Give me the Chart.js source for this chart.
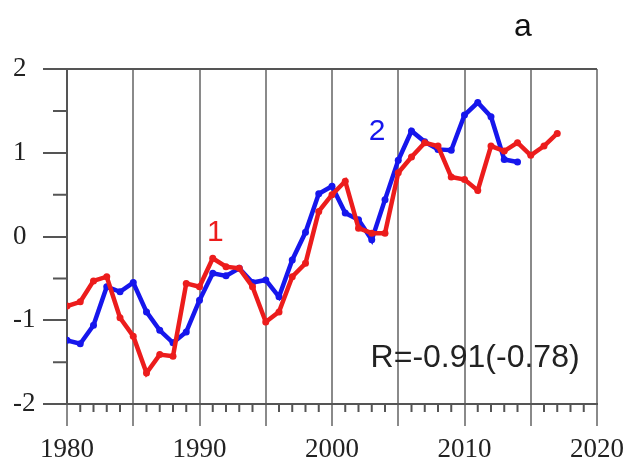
<!DOCTYPE html>
<html>
<head>
<meta charset="utf-8">
<script src="https://cdn.jsdelivr.net/npm/chart.js@4/dist/chart.umd.min.js"></script>
<style>
  html, body { margin: 0; padding: 0; background: #fff; }
  #wrap { width: 626px; height: 462px; position: relative; }
</style>
</head>
<body>
<div id="wrap"><canvas id="chart"></canvas></div>
<script>
// index values, one per year starting at startYear
var startYear = 1980;
var series1 = [-0.83, -0.78, -0.53, -0.48, -0.97, -1.19, -1.63, -1.41, -1.43, -0.56,
               -0.60, -0.26, -0.36, -0.38, -0.60, -1.02, -0.90, -0.48, -0.32, 0.30,
               0.50, 0.66, 0.10, 0.04, 0.04, 0.76, 0.95, 1.12, 1.08, 0.71,
               0.68, 0.55, 1.08, 1.02, 1.12, 0.97, 1.08, 1.23];
var series2 = [-1.24, -1.28, -1.06, -0.60, -0.66, -0.55, -0.90, -1.12, -1.27, -1.14,
               -0.76, -0.44, -0.47, -0.38, -0.55, -0.52, -0.72, -0.28, 0.05, 0.51,
               0.60, 0.28, 0.20, -0.04, 0.44, 0.91, 1.26, 1.13, 1.04, 1.03,
               1.45, 1.60, 1.43, 0.92, 0.89];
var xTickLabels = [1980, 1990, 2000, 2010, 2020];
var yTickLabels = [-2, -1, 0, 1, 2];
var panelLetter = 'a';
var corrText = 'R=-0.91(-0.78)';

var red = '#ec1c1c';
var blue = '#1616ec';
var axisGrey = '#555555';
var gridGrey = '#8a8a8a';

function toPoints(values) {
    return values.map(function(v, i) { return { x: startYear + i, y: v }; });
}

// small year ticks, half-unit ticks on y, top frame line and the text labels
var decorations = {
    id: 'decorations',
    afterDraw: function(chart) {
        var ctx = chart.ctx;
        var xs = chart.scales.x, ys = chart.scales.y;
        var area = chart.chartArea;
        ctx.save();
        ctx.strokeStyle = axisGrey;
        ctx.lineWidth = 2;
        ctx.beginPath();
        for (var yr = xs.min; yr <= xs.max; yr++) {
            if (yr % 5 === 0) continue;
            var px = xs.getPixelForValue(yr);
            ctx.moveTo(px, area.bottom);
            ctx.lineTo(px, area.bottom + 8);
        }
        for (var v = ys.min + 0.5; v < ys.max; v += 1) {
            var py = ys.getPixelForValue(v);
            ctx.moveTo(area.left, py);
            ctx.lineTo(area.left - 14, py);
        }
        ctx.moveTo(area.left, area.top);
        ctx.lineTo(area.right, area.top);
        ctx.stroke();

        ctx.textAlign = 'center';
        ctx.textBaseline = 'middle';
        ctx.font = '32px "Liberation Sans", Arial, sans-serif';
        ctx.fillStyle = '#111';
        ctx.fillText(panelLetter, xs.getPixelForValue(2014.4), ys.getPixelForValue(2.5));

        ctx.font = '30px "Liberation Sans", Arial, sans-serif';
        ctx.fillStyle = red;
        ctx.fillText('1', xs.getPixelForValue(1991.2), ys.getPixelForValue(0.04));
        ctx.fillStyle = blue;
        ctx.fillText('2', xs.getPixelForValue(2003.4), ys.getPixelForValue(1.25));

        ctx.font = '32px "Liberation Sans", Arial, sans-serif';
        ctx.fillStyle = '#222';
        ctx.fillText(corrText, xs.getPixelForValue(2010.8), ys.getPixelForValue(-1.45));
        ctx.restore();
    }
};

new Chart(document.getElementById('chart'), {
    type: 'line',
    data: {
        datasets: [{
            label: '1',
            data: toPoints(series1),
            borderColor: red,
            backgroundColor: red,
            borderWidth: 4.5,
            pointRadius: 3.5,
            pointBorderWidth: 0,
            tension: 0
        }, {
            label: '2',
            data: toPoints(series2),
            borderColor: blue,
            backgroundColor: blue,
            borderWidth: 4.5,
            pointRadius: 3.5,
            pointBorderWidth: 0,
            tension: 0
        }]
    },
    options: {
        responsive: true,
        maintainAspectRatio: false,
        animation: false,
        layout: { padding: { left: 13, right: 29, top: 69, bottom: 0 } },
        plugins: {
            legend: { display: false },
            tooltip: { enabled: false }
        },
        scales: {
            x: {
                type: 'linear',
                min: 1980,
                max: 2020,
                afterFit: function(scale) {
                    scale.height = 58;
                    scale.paddingLeft = 0;
                    scale.paddingRight = 0;
                },
                ticks: {
                    stepSize: 5,
                    maxRotation: 0,
                    autoSkip: false,
                    padding: 8,
                    color: '#222',
                    font: { family: '"Liberation Serif", "Times New Roman", serif', size: 27 },
                    callback: function(v) { return xTickLabels.indexOf(v) >= 0 ? String(v) : ''; }
                },
                grid: {
                    color: gridGrey,
                    lineWidth: 2,
                    tickLength: 22,
                    tickColor: gridGrey
                },
                border: { display: true, color: axisGrey, width: 2 }
            },
            y: {
                min: -2,
                max: 2,
                afterFit: function(scale) {
                    scale.width = 54;
                    scale.paddingTop = 0;
                    scale.paddingBottom = 0;
                },
                ticks: {
                    stepSize: 1,
                    crossAlign: 'far',
                    color: '#222',
                    font: { family: '"Liberation Serif", "Times New Roman", serif', size: 27 },
                    callback: function(v) { return yTickLabels.indexOf(v) >= 0 ? String(v) : ''; }
                },
                grid: {
                    drawOnChartArea: false,
                    tickLength: 24,
                    tickColor: axisGrey,
                    lineWidth: 2
                },
                border: { display: true, color: axisGrey, width: 2 }
            }
        }
    },
    plugins: [decorations]
});
</script>
</body>
</html>
